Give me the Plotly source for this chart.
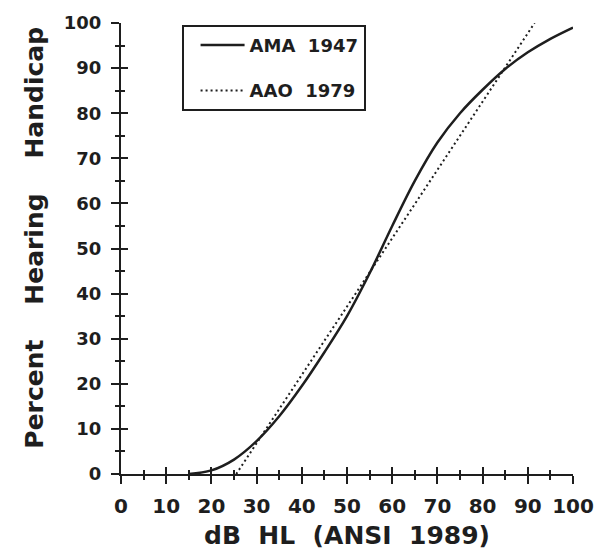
import plotly.graph_objects as go

# Data
ama_x = [15, 20, 25, 30, 35, 40, 45, 50, 55, 60, 65, 70, 75, 80, 85, 90, 95, 100]
ama_y = [0, 0.8, 3.2, 7.3, 12.8, 19.5, 27.0, 35.0, 44.5, 55.0, 65.0, 73.5, 80.0, 85.2, 89.8, 93.5, 96.5, 99.0]
aao_x = [25.5, 91.5]
aao_y = [0, 100]

x_ticks = [0, 10, 20, 30, 40, 50, 60, 70, 80, 90, 100]
y_ticks = [0, 10, 20, 30, 40, 50, 60, 70, 80, 90, 100]

x_title = "dB&nbsp;&nbsp;HL&nbsp;&nbsp;(ANSI&nbsp;&nbsp;1989)"
y_title = "Percent&nbsp;&nbsp;&nbsp;&nbsp;Hearing&nbsp;&nbsp;&nbsp;&nbsp;Handicap"
names = ["AMA&nbsp;&nbsp;1947", "AAO&nbsp;&nbsp;1979"]

INK = "#1e1e1e"
bold = lambda s: dict(family="DejaVu Sans", size=s, color=INK, weight="bold")

fig = go.Figure()
fig.add_trace(go.Scatter(x=ama_x, y=ama_y, mode="lines", name=names[0],
                         line=dict(color=INK, width=2.5, shape="spline", smoothing=1.0),
                         legendgroup="a"))
fig.add_trace(go.Scatter(x=aao_x, y=aao_y, mode="lines", name=names[1],
                         line=dict(color=INK, width=2, dash="2px,3px"),
                         legendgroup="b"))
# invisible trace to carry the overlay axes (inside half of cross ticks)
fig.add_trace(go.Scatter(x=[0], y=[0], xaxis="x2", yaxis="y2", mode="markers",
                         marker=dict(opacity=0), showlegend=False, hoverinfo="skip"))

axis_common = dict(range=[0, 100], showgrid=False, zeroline=False, showline=True,
                   linecolor=INK, linewidth=2, tickcolor=INK, tickwidth=2)
minor_out = dict(dtick=5, tick0=0, ticks="outside", ticklen=4, tickcolor=INK, tickwidth=1.5)
minor_in = dict(dtick=5, tick0=0, ticks="inside", ticklen=4, tickcolor=INK, tickwidth=1.5)

fig.update_layout(
    width=606, height=552,
    margin=dict(l=121, r=22, t=20, b=78),
    paper_bgcolor="white", plot_bgcolor="white",
    xaxis=dict(**axis_common, tickvals=x_ticks, ticks="outside", ticklen=8,
               tickfont=bold(20), ticklabelstandoff=5, minor=minor_out),
    yaxis=dict(**axis_common, tickvals=y_ticks, ticks="outside", ticklen=8,
               tickfont=bold(18), ticklabelstandoff=6, minor=minor_out),
    xaxis2=dict(range=[0, 100], overlaying="x", anchor="y", side="bottom", showgrid=False,
                zeroline=False, showline=False, showticklabels=False, tickvals=x_ticks,
                ticks="inside", ticklen=7, tickcolor=INK, tickwidth=2, minor=minor_in),
    yaxis2=dict(range=[0, 100], overlaying="y", anchor="x", side="left", showgrid=False,
                zeroline=False, showline=False, showticklabels=False, tickvals=y_ticks,
                ticks="inside", ticklen=7, tickcolor=INK, tickwidth=2, minor=minor_in),
    legend=dict(x=0.134, y=0.996, xanchor="left", yanchor="top",
                bordercolor=INK, borderwidth=2, bgcolor="white",
                font=bold(18), traceorder="grouped", tracegroupgap=19,
                indentation=12, itemwidth=44),
    annotations=[
        dict(text=x_title, xref="paper", yref="paper", x=0.5, y=(474 - 536) / 454,
             xanchor="center", yanchor="middle", showarrow=False, font=bold(25)),
        dict(text=y_title, xref="paper", yref="paper", x=(32 - 121) / 463, y=(474 - 236) / 454,
             textangle=-90, xanchor="center", yanchor="middle", showarrow=False, font=bold(25)),
    ],
)

fig.write_html("out.html")
